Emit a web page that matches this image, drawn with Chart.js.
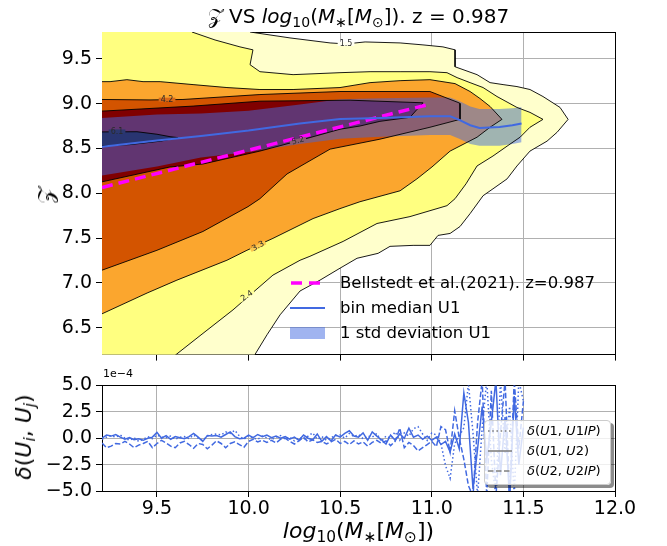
<!DOCTYPE html>
<html>
<head>
<meta charset="utf-8">
<script src="https://cdn.jsdelivr.net/npm/chart.js@4.4.0/dist/chart.umd.min.js"></script>
<style>
html,body{margin:0;padding:0;background:#fff;}
#wrap{position:relative;width:667px;height:546px;overflow:hidden;font-family:'DejaVu Sans',sans-serif;color:#000;}
canvas{position:absolute;left:0;}
#cTop{top:0;}
#cBot{top:370px;}
.t{position:absolute;white-space:nowrap;}
.t sub{font-size:0.7em;vertical-align:-0.28em;line-height:0;}
.rot{transform:translate(-50%,-50%) rotate(-90deg);}
svg{position:absolute;overflow:visible;}
#leg2{position:absolute;left:484px;top:420px;width:125px;height:63px;border:1px solid #cccccc;border-radius:4px;background:rgba(255,255,255,0.8);box-shadow:3px 3px 0 rgba(0,0,0,0.45);}
</style>
</head>
<body>
<div id="wrap">
  <canvas id="cTop" width="667" height="370"></canvas>
  <canvas id="cBot" width="667" height="176"></canvas>

  <div class="t" style="left:102px;width:513px;top:4px;text-align:center;font-size:20px;line-height:25px;">𝒵 VS <i>log</i><sub>10</sub>(<i>M</i><sub>∗</sub>[<i>M</i><sub>⊙</sub>]). z = 0.987</div>
  <div class="t rot" style="left:46px;top:195px;font-size:22px;line-height:26px;">𝒵</div>
  <div class="t rot" style="left:24px;top:437px;font-size:22px;line-height:26px;"><i>δ</i>(<i>U</i><sub><i>i</i></sub>, <i>U</i><sub><i>j</i></sub>)</div>
  <div class="t" style="left:102px;width:513px;top:518px;text-align:center;font-size:22px;line-height:26px;"><i>log</i><sub>10</sub>(<i>M</i><sub>∗</sub>[<i>M</i><sub>⊙</sub>])</div>
  <div class="t" style="left:103px;top:367px;font-size:11px;line-height:13px;">1e−4</div>

  <!-- top legend -->
  <svg style="left:290px;top:280px" width="36" height="6"><line x1="1" y1="3" x2="33" y2="3" stroke="#ff00ff" stroke-width="3.5" stroke-dasharray="11 7"/></svg>
  <div class="t" style="left:340px;top:273px;font-size:16.5px;line-height:20px;">Bellstedt et al.(2021). z=0.987</div>
  <svg style="left:290px;top:305px" width="36" height="6"><line x1="0" y1="3" x2="35" y2="3" stroke="#4169e1" stroke-width="2"/></svg>
  <div class="t" style="left:340px;top:298px;font-size:16.5px;line-height:20px;">bin median U1</div>
  <div style="position:absolute;left:290px;top:327px;width:35px;height:12px;background:rgba(65,105,225,0.5);"></div>
  <div class="t" style="left:340px;top:323px;font-size:16.5px;line-height:20px;">1 std deviation U1</div>

  <!-- bottom legend -->
  <div id="leg2"></div>
  <svg style="left:488px;top:428px" width="26" height="6"><line x1="0" y1="3" x2="24" y2="3" stroke="#808080" stroke-width="1.6" stroke-dasharray="1.6 2.6"/></svg>
  <div class="t" style="left:527px;top:422px;font-size:13px;line-height:17px;"><i>δ</i>(<i>U</i>1, <i>U</i>1<i>IP</i>)</div>
  <svg style="left:488px;top:448px" width="26" height="6"><line x1="0" y1="3" x2="24" y2="3" stroke="#808080" stroke-width="1.6"/></svg>
  <div class="t" style="left:527px;top:442px;font-size:13px;line-height:17px;"><i>δ</i>(<i>U</i>1, <i>U</i>2)</div>
  <svg style="left:488px;top:468px" width="26" height="6"><line x1="0" y1="3" x2="24" y2="3" stroke="#808080" stroke-width="1.6" stroke-dasharray="5.5 2.5"/></svg>
  <div class="t" style="left:527px;top:462px;font-size:13px;line-height:17px;"><i>δ</i>(<i>U</i>2, <i>U</i>2<i>IP</i>)</div>
</div>

<script>
// ---------------- data ----------------
const xTicks = [9.5, 10.0, 10.5, 11.0, 11.5, 12.0];
const zTicks = [6.5, 7.0, 7.5, 8.0, 8.5, 9.0, 9.5];
const deltaTicks = [-5.0, -2.5, 0.0, 2.5, 5.0];

const contourLevels = ['1.5', '2.4', '3.3', '4.2', '5.2', '6.1'];

const contour1p5 = [[10.008,10.0],[10.008,9.800],[10.226,9.734],[10.445,9.678],[10.532,9.667],[10.636,9.689],[10.827,9.678],[10.952,9.656],[11.061,9.634],[11.127,9.601],[11.127,9.412],[11.247,9.324],[11.318,9.235],[11.389,9.213],[11.465,9.191],[11.536,9.158],[11.607,9.080],[11.700,8.958],[11.744,8.825],[11.684,8.681],[11.629,8.582],[11.536,8.471],[11.465,8.305],[11.411,8.161],[11.334,8.050],[11.280,7.973],[11.209,7.773],[11.154,7.629],[11.100,7.552],[11.034,7.530],[10.990,7.419],[10.898,7.419],[10.772,7.408],[10.707,7.330],[10.592,7.275],[10.499,7.164],[10.390,7.031],[10.281,6.910],[10.172,6.644],[10.101,6.422],[10.035,6.201],[10.020,6.0],[9.0,6.0],[9.0,10.0]];

const contour2p4 = [[9.691,10.0],[9.691,9.800],[9.817,9.711],[9.953,9.634],[10.024,9.601],[10.008,9.435],[10.062,9.357],[10.243,9.324],[10.499,9.346],[10.663,9.357],[10.827,9.357],[10.990,9.357],[11.083,9.346],[11.138,9.291],[11.209,9.235],[11.280,9.180],[11.356,9.080],[11.465,8.958],[11.536,8.903],[11.607,8.825],[11.536,8.737],[11.482,8.626],[11.427,8.549],[11.334,8.416],[11.247,8.305],[11.187,8.106],[11.127,7.940],[11.083,7.862],[10.881,7.740],[10.701,7.663],[10.516,7.463],[10.335,7.297],[10.281,7.253],[10.133,7.087],[10.008,6.865],[9.915,6.699],[9.735,6.411],[9.598,6.190],[9.580,6.0],[9.0,6.0],[9.0,10.0]];

const contour3p3 = [[9.0,9.246],[9.200,9.246],[9.244,9.246],[9.336,9.268],[9.424,9.246],[9.517,9.246],[9.697,9.213],[9.882,9.180],[10.062,9.158],[10.243,9.158],[10.499,9.180],[10.663,9.235],[10.827,9.257],[10.990,9.268],[11.127,9.224],[11.209,9.136],[11.263,9.058],[11.318,8.969],[11.383,8.825],[11.318,8.737],[11.247,8.626],[11.100,8.471],[11.001,8.294],[10.919,8.161],[10.827,8.028],[10.608,7.906],[10.499,7.829],[10.352,7.718],[10.133,7.497],[9.991,7.364],[9.882,7.253],[9.609,7.031],[9.446,6.887],[9.200,6.655],[9.0,6.550]];

const contour4p2 = [[9.0,9.047],[9.200,9.047],[9.462,9.042],[9.642,9.047],[10.062,9.102],[10.499,9.136],[10.663,9.136],[10.990,9.136],[11.143,9.014],[11.154,9.003],[11.154,8.825],[10.990,8.737],[10.717,8.604],[10.445,8.493],[10.210,8.216],[10.062,7.940],[9.997,7.851],[9.751,7.574],[9.500,7.364],[9.200,7.142],[9.0,7.100]];

const contour5p2 = [[9.0,8.917],[9.200,8.917],[9.697,8.973],[10.062,9.028],[10.554,9.039],[10.952,9.010],[10.881,8.848],[10.717,8.803],[10.608,8.751],[10.499,8.715],[10.270,8.585],[10.062,8.471],[9.751,8.327],[9.571,8.294],[9.200,8.128],[9.0,8.100]];

const contour6p1 = [[9.0,8.685],[9.200,8.685],[9.391,8.687],[9.500,8.659],[9.571,8.632],[9.615,8.621],[9.520,8.582],[9.350,8.543],[9.200,8.530],[9.0,8.530]];

const medianX   = [9.20, 9.50, 9.74, 10.00, 10.28, 10.50, 10.72, 10.99, 11.10, 11.15, 11.21, 11.26, 11.37, 11.44, 11.49];
const medianU1  = [8.52, 8.59, 8.64, 8.70, 8.78, 8.83, 8.84, 8.86, 8.86, 8.82, 8.76, 8.73, 8.74, 8.76, 8.78];
const stdUpperU1 = [8.84, 8.88, 8.89, 8.92, 8.99, 9.05, 9.06, 9.07, 9.07, 9.03, 8.97, 8.94, 8.94, 8.95, 8.96];
const stdLowerU1 = [8.20, 8.30, 8.40, 8.46, 8.55, 8.61, 8.63, 8.65, 8.65, 8.61, 8.55, 8.53, 8.53, 8.55, 8.57];

const bellstedtX = [9.20, 9.60, 10.00, 10.40, 10.80, 10.97];
const bellstedtZ = [8.065, 8.273, 8.481, 8.689, 8.897, 8.985];

const contourLabelSpots = [
  {text:'1.5', x:10.532, y:9.667, angle:0},
  {text:'4.2', x:9.555, y:9.045, angle:0},
  {text:'6.1', x:9.282, y:8.690, angle:0},
  {text:'5.2', x:10.270, y:8.585, angle:-15},
  {text:'3.3', x:10.052, y:7.408, angle:-28},
  {text:'2.4', x:9.991, y:6.854, angle:-35}
];
const labelBackgrounds = ['#fffff2', '#ffff9a', '#fcc850', '#d96a18', '#8a5e70', '#2c3870'];

const deltaX = [9.200,9.225,9.250,9.275,9.300,9.325,9.350,9.375,9.400,9.425,9.450,9.475,9.500,9.525,9.550,9.575,9.600,9.625,9.650,9.675,9.700,9.725,9.750,9.775,9.800,9.825,9.850,9.875,9.900,9.925,9.950,9.975,10.000,10.025,10.050,10.075,10.100,10.125,10.150,10.175,10.200,10.225,10.250,10.275,10.300,10.325,10.350,10.375,10.400,10.425,10.450,10.475,10.500,10.525,10.550,10.575,10.600,10.625,10.650,10.675,10.700,10.725,10.750,10.775,10.800,10.825,10.850,10.875,10.900,10.925,10.950,10.975,11.000,11.025,11.050,11.075,11.100,11.125,11.150,11.175,11.200,11.225,11.250,11.275,11.300,11.325,11.350,11.375,11.400,11.425,11.450,11.475,11.500];

const deltaU1U1IP = [-0.1,0.1,0.25,0.1,0.3,0.0,-0.2,0.05,-0.3,-0.1,0.15,-0.05,0.3,0.1,0.05,0.2,-0.1,0.1,0.15,-0.05,0.3,0.0,-0.2,0.2,0.35,0.4,0.3,0.6,0.45,0.75,0.2,-0.1,0.25,0.0,-0.1,0.2,0.05,-0.15,0.1,0.25,-0.05,0.1,-0.25,0.05,-0.1,0.2,0.5,-0.1,0.15,-0.2,0.05,0.25,0.3,0.0,0.45,0.15,0.35,-0.05,0.2,0.1,0.45,-0.3,0.2,0.0,0.6,-0.2,0.5,0.2,0.9,1.1,0.4,-0.2,0.5,0.3,-0.5,-2.6,-3.8,-0.5,0.2,1.0,5.2,0.5,-5.5,1.0,5.5,-2.0,-5.5,5.5,-1.5,3.0,-5.5,5.5,3.5];

const deltaU1U2 = [0.0,0.3,0.2,0.35,0.1,-0.1,0.05,-0.15,-0.05,-0.2,0.0,0.1,0.55,0.0,0.25,-0.1,0.15,0.05,-0.05,0.15,0.45,0.1,-0.3,0.25,0.2,0.25,0.1,0.35,0.6,0.15,-0.05,0.0,0.3,0.05,0.35,0.15,0.3,0.05,0.2,0.0,0.15,-0.1,0.1,-0.2,0.3,0.0,-0.15,0.4,-0.3,0.15,-0.25,0.3,0.1,0.45,0.7,0.2,0.1,0.5,-0.2,0.6,0.2,-0.15,-0.55,0.3,-0.2,0.4,0.0,0.95,0.1,0.3,-0.1,0.2,-0.2,0.1,-0.6,-0.3,-1.3,0.4,-1.0,4.3,1.5,-4.8,-1.0,3.0,-2.0,1.5,5.5,-3.5,2.0,-6.0,4.0,-2.5,1.0];

const deltaU2U2IP = [-0.45,-0.9,-0.75,-0.5,-0.55,-0.3,-0.55,-0.9,-0.65,-0.5,-0.3,-0.9,-0.5,-0.2,-0.45,-0.75,-0.9,-0.45,-0.3,-0.6,-0.95,-0.5,-0.6,-1.0,-0.65,-0.25,-0.5,-0.9,-0.5,-0.35,-0.6,-0.85,-0.3,-0.1,-0.35,-0.2,-0.4,-0.2,-0.45,-0.1,0.0,-0.3,-0.55,-0.25,0.1,-0.35,-0.15,-0.4,-0.3,-0.55,-0.35,-0.1,-0.5,-0.3,-0.6,-0.25,-0.55,-0.35,-0.75,-0.4,-0.2,-0.5,-0.25,-0.7,-0.3,0.95,-0.9,-0.4,-0.7,-1.2,-0.9,-0.6,-0.3,-0.8,1.1,0.8,-1.3,2.6,0.0,-2.0,-4.5,-5.5,1.5,5.5,-5.5,4.5,-5.5,0.5,5.5,-5.5,5.5,-1.0,3.5];

// ---------------- styling ----------------
const FONT = "'DejaVu Sans', sans-serif";
Chart.defaults.font.family = FONT;
Chart.defaults.color = '#000';
Chart.defaults.animation = false;

const fillColors = ['#ffffcc', '#ffff80', '#fba62e', '#d35400', '#800000', '#100000'];
const contours = [contour1p5, contour2p4, contour3p3, contour4p2, contour5p2, contour6p1];
const GRID = '#b0b0b0';

const toXY = arr => arr.map(p => ({x: p[0], y: p[1]}));
const zip = (xs, ys) => xs.map((x, i) => ({x: x, y: ys[i]}));

const topDatasets = [];
contours.forEach((c, i) => {
  topDatasets.push({data: toXY(c), showLine: true, pointRadius: 0, borderWidth: 0,
    borderColor: 'rgba(0,0,0,0)', backgroundColor: fillColors[i], fill: 'shape', order: 30 - i});
});
topDatasets.push({data: zip(medianX, stdUpperU1), showLine: true, pointRadius: 0, borderWidth: 0,
  borderColor: 'rgba(0,0,0,0)', backgroundColor: 'rgba(65,105,225,0.5)', fill: '+1', order: 10});
topDatasets.push({data: zip(medianX, stdLowerU1), showLine: true, pointRadius: 0, borderWidth: 0,
  borderColor: 'rgba(0,0,0,0)', fill: false, order: 10});
contours.forEach((c) => {
  topDatasets.push({data: toXY(c), showLine: true, pointRadius: 0, borderWidth: 0.9,
    borderColor: '#000', fill: false, order: 5});
});
topDatasets.push({data: zip(bellstedtX, bellstedtZ), showLine: true, pointRadius: 0, borderWidth: 3.5,
  borderColor: '#ff00ff', borderDash: [11, 6], fill: false, order: 1});
topDatasets.push({data: zip(medianX, medianU1), showLine: true, pointRadius: 0, borderWidth: 2,
  borderColor: '#4169e1', fill: false, order: 0});

const contourLabelPlugin = {
  id: 'contourLabels',
  afterDatasetsDraw(chart) {
    const {ctx} = chart;
    const xs = chart.scales.x, ys = chart.scales.y;
    ctx.save();
    ctx.font = "8px " + FONT;
    ctx.textAlign = 'center';
    ctx.textBaseline = 'middle';
    contourLabelSpots.forEach((l) => {
      const lvl = contourLevels.indexOf(l.text);
      const px = xs.getPixelForValue(l.x), py = ys.getPixelForValue(l.y);
      ctx.save();
      ctx.translate(px, py);
      ctx.rotate(l.angle * Math.PI / 180);
      const w = ctx.measureText(l.text).width;
      ctx.fillStyle = labelBackgrounds[lvl];
      ctx.fillRect(-w / 2 - 2, -2, w + 4, 4);
      ctx.fillStyle = '#2a2a2a';
      ctx.fillText(l.text, 0, 0);
      ctx.restore();
    });
    ctx.restore();
  }
};

function frameAxis(pos, min, max) {
  return {type: 'linear', position: pos, min: min, max: max, display: true, z: 1,
    ticks: {display: false}, grid: {display: false, drawTicks: false},
    border: {display: true, color: '#000', width: 1},
    afterFit: s => { if (pos === 'top' || pos === 'bottom') s.height = 0; else s.width = 0; }};
}

new Chart(document.getElementById('cTop'), {
  type: 'scatter',
  data: {datasets: topDatasets},
  plugins: [contourLabelPlugin],
  options: {
    responsive: false, animation: false, events: [],
    layout: {padding: {left: 0, right: 52, top: 32, bottom: 0}},
    plugins: {legend: {display: false}, tooltip: {enabled: false}},
    scales: {
      x: {type: 'linear', position: 'bottom', min: 9.2, max: 12.0, z: 1,
        afterBuildTicks: s => { s.ticks = xTicks.map(v => ({value: v})); },
        afterFit: s => { s.height = 13; },
        ticks: {display: false},
        grid: {color: GRID, lineWidth: 1, tickLength: 6, tickColor: '#000', tickWidth: 1},
        border: {display: true, color: '#000', width: 1}},
      y: {type: 'linear', position: 'left', min: 6.2, max: 9.8, z: 1,
        afterBuildTicks: s => { s.ticks = zTicks.map(v => ({value: v})); },
        afterFit: s => { s.width = 102; },
        ticks: {font: {size: 19}, padding: 4, color: '#000', callback: v => Number(v).toFixed(1)},
        grid: {color: GRID, lineWidth: 1, tickLength: 6, tickColor: '#000', tickWidth: 1},
        border: {display: true, color: '#000', width: 1}},
      x2: frameAxis('top', 9.2, 12.0),
      y2: frameAxis('right', 6.2, 9.8)
    }
  }
});

const botDatasets = [
  {data: zip(deltaX, deltaU1U1IP), showLine: true, pointRadius: 0, borderWidth: 1.5,
    borderColor: '#4169e1', borderDash: [1.5, 2.5], fill: false},
  {data: zip(deltaX, deltaU1U2), showLine: true, pointRadius: 0, borderWidth: 1.5,
    borderColor: '#4169e1', fill: false},
  {data: zip(deltaX, deltaU2U2IP), showLine: true, pointRadius: 0, borderWidth: 1.5,
    borderColor: '#4169e1', borderDash: [5.5, 2.4], fill: false}
];

new Chart(document.getElementById('cBot'), {
  type: 'scatter',
  data: {datasets: botDatasets},
  options: {
    responsive: false, animation: false, events: [],
    layout: {padding: {left: 0, right: 52, top: 12, bottom: 0}},
    plugins: {legend: {display: false}, tooltip: {enabled: false}},
    scales: {
      x: {type: 'linear', position: 'bottom', min: 9.2, max: 12.0,
        afterBuildTicks: s => { s.ticks = xTicks.map(v => ({value: v})); },
        afterFit: s => { s.height = 55; },
        ticks: {font: {size: 19}, padding: 1, color: '#000', maxRotation: 0, callback: v => Number(v).toFixed(1)},
        grid: {color: GRID, lineWidth: 1, tickLength: 6, tickColor: '#000', tickWidth: 1},
        border: {display: true, color: '#000', width: 1}},
      y: {type: 'linear', position: 'left', min: -5, max: 5,
        afterBuildTicks: s => { s.ticks = deltaTicks.map(v => ({value: v})); },
        afterFit: s => { s.width = 102; },
        ticks: {font: {size: 19}, padding: 4, color: '#000',
          callback: v => (v < 0 ? '\u2212' : '') + Math.abs(Number(v)).toFixed(1)},
        grid: {color: GRID, lineWidth: 1, tickLength: 6, tickColor: '#000', tickWidth: 1},
        border: {display: true, color: '#000', width: 1}},
      x2: frameAxis('top', 9.2, 12.0),
      y2: frameAxis('right', -5, 5)
    }
  }
});
</script>
</body>
</html>
